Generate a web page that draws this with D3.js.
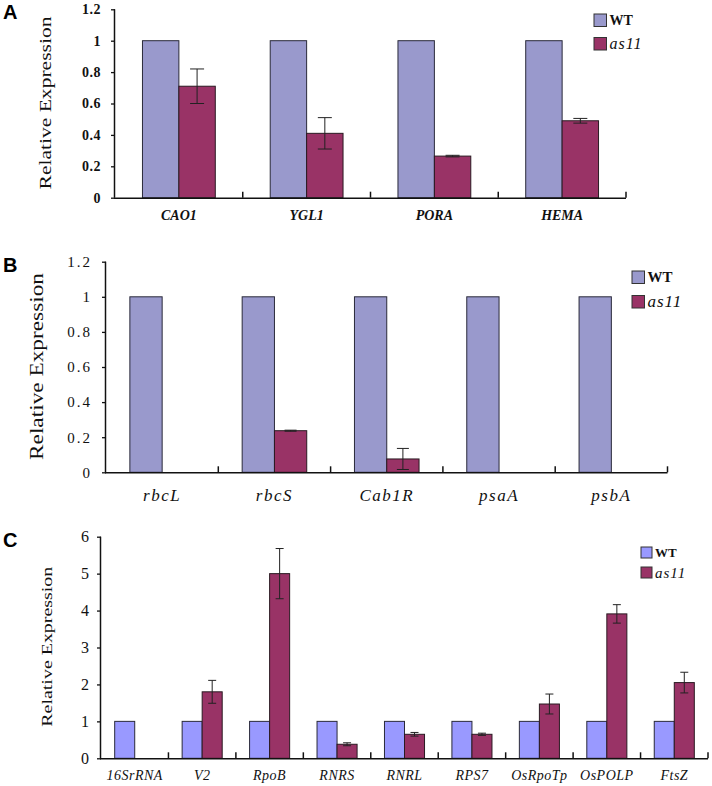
<!DOCTYPE html>
<html><head><meta charset="utf-8">
<script src="https://cdn.jsdelivr.net/npm/d3@7"></script>
<style>
html,body{margin:0;padding:0;background:#fff;}
svg{display:block;}
</style></head>
<body>
<svg id="chart" width="712" height="786"></svg>
<script>
// ---- Data ----
const seriesNames = ["WT", "as11"];

const catsA = ["CAO1", "YGL1", "PORA", "HEMA"];
const wtA = [1, 1, 1, 1];
const as11A = [0.71, 0.41, 0.265, 0.49];
const errA = [0.11, 0.10, 0.005, 0.015];
const ticksA = [0, 0.2, 0.4, 0.6, 0.8, 1, 1.2];

const catsB = ["rbcL", "rbcS", "Cab1R", "psaA", "psbA"];
const wtB = [1, 1, 1, 1, 1];
const as11B = [0, 0.237, 0.076, 0, 0];
const errB = [0, 0.003, 0.06, 0, 0];
const ticksB = [0, 0.2, 0.4, 0.6, 0.8, 1, 1.2];

const catsC = ["16SrRNA", "V2", "RpoB", "RNRS", "RNRL", "RPS7", "OsRpoTp", "OsPOLP", "FtsZ"];
const wtC = [1, 1, 1, 1, 1, 1, 1, 1, 1];
const as11C = [0, 1.80, 5.0, 0.38, 0.65, 0.65, 1.47, 3.91, 2.05];
const errC = [0, 0.31, 0.68, 0.04, 0.05, 0.03, 0.27, 0.25, 0.28];
const ticksC = [0, 1, 2, 3, 4, 5, 6];

const svg = d3.select("#chart");

function panel(o) {
  const g = svg.append("g");
  const x = d3.scaleBand().domain(o.cats).range([o.x0, o.x1]).padding(0);
  const bw = x.bandwidth();
  const xs = d3.scaleBand().domain(seriesNames).range([bw * o.pad / 2, bw * (1 - o.pad / 2)]).padding(0);
  const y = d3.scaleLinear().domain([0, o.ymax]).range([o.y0, o.ytop]);

  // bars
  const rows = o.cats.map((c, i) => ({c, wt: o.wt[i], as: o.as[i], e: o.err[i]}));
  g.selectAll("rect.wt").data(rows).join("rect")
    .attr("x", d => x(d.c) + xs("WT")).attr("width", xs.bandwidth())
    .attr("y", d => y(d.wt)).attr("height", d => y(0) - y(d.wt))
    .attr("fill", o.cWT).attr("stroke", "#2a2a3a").attr("stroke-width", 1);
  g.selectAll("rect.as").data(rows.filter(d => d.as > 0)).join("rect")
    .attr("x", d => x(d.c) + xs("as11")).attr("width", xs.bandwidth())
    .attr("y", d => y(d.as)).attr("height", d => y(0) - y(d.as))
    .attr("fill", o.cAS).attr("stroke", "#2a1a22").attr("stroke-width", 1);
  // error bars
  const eb = g.selectAll("g.eb").data(rows.filter(d => d.as > 0 && d.e > 0)).join("g")
    .attr("stroke", "#222").attr("stroke-width", 1);
  const cx = d => x(d.c) + xs("as11") + xs.bandwidth() / 2;
  eb.append("line").attr("x1", cx).attr("x2", cx).attr("y1", d => y(d.as + d.e)).attr("y2", d => y(d.as - d.e));
  eb.append("line").attr("x1", d => cx(d) - o.cap).attr("x2", d => cx(d) + o.cap).attr("y1", d => y(d.as + d.e)).attr("y2", d => y(d.as + d.e));
  eb.append("line").attr("x1", d => cx(d) - o.cap).attr("x2", d => cx(d) + o.cap).attr("y1", d => y(d.as - d.e)).attr("y2", d => y(d.as - d.e));

  // y axis
  const ya = g.append("g").attr("transform", `translate(${o.x0},0)`)
    .call(d3.axisLeft(y).tickValues(o.ticks).tickSize(4).tickPadding(o.tickPad).tickFormat(d3.format("~g")));
  ya.select(".domain").attr("d", `M-0.5,${o.y0}V${o.ytop}`).attr("stroke", "#111").attr("stroke-width", 1.5);
  ya.selectAll(".tick line").attr("stroke", "#111").attr("stroke-width", 1.3);
  ya.selectAll(".tick text").attr("font-family", o.tickFont).attr("font-size", o.tickSize)
    .attr("font-weight", o.tickWeight).attr("fill", "#111").attr("letter-spacing", o.tickLS);

  // x axis
  const xa = g.append("g").attr("transform", `translate(0,${o.y0})`)
    .call(d3.axisBottom(x).tickSize(0).tickPadding(o.xPad));
  xa.select(".domain").remove();
  xa.selectAll(".tick text").attr("font-family", o.xFont).attr("font-size", o.xSize)
    .attr("font-style", "italic").attr("font-weight", o.xWeight).attr("fill", "#111").attr("letter-spacing", o.xLS);
  g.append("line").attr("x1", o.x0 - 1).attr("x2", o.x1).attr("y1", o.y0 + 0.5).attr("y2", o.y0 + 0.5)
    .attr("stroke", "#111").attr("stroke-width", 1.5);
  g.selectAll("line.bt").data(o.cats).join("line")
    .attr("x1", c => x(c) + bw).attr("x2", c => x(c) + bw)
    .attr("y1", o.y0).attr("y2", o.y0 - 6).attr("stroke", "#111").attr("stroke-width", 1.5);

  // y label
  g.append("text").attr("transform", `translate(${o.ylx},${o.yly}) rotate(-90)`)
    .attr("text-anchor", "middle").attr("dominant-baseline", "central")
    .attr("font-family", "Liberation Serif, serif").attr("font-size", o.ylSize)
    .attr("textLength", o.ylLen).attr("lengthAdjust", "spacingAndGlyphs")
    .attr("fill", "#111").text("Relative Expression");

  // panel letter
  g.append("text").attr("x", 3).attr("y", o.letterY).attr("font-family", "Liberation Sans, Arial, sans-serif")
    .attr("font-weight", "bold").attr("font-size", 20).attr("fill", "#000").text(o.letter);

  // legend
  const lg = g.append("g").attr("transform", `translate(${o.lx},${o.ly})`);
  seriesNames.forEach((s, i) => {
    lg.append("rect").attr("x", 0).attr("y", i * o.lstep).attr("width", o.lbox).attr("height", o.lbox)
      .attr("fill", s === "WT" ? o.cWT : o.cAS).attr("stroke", "#333").attr("stroke-width", 1);
    lg.append("text").attr("x", o.lbox + 3).attr("y", i * o.lstep + o.lbox / 2)
      .attr("dominant-baseline", "central")
      .attr("font-family", "Liberation Serif, serif")
      .attr("font-size", s === "WT" ? o.lfs : o.lfs + 2)
      .attr("font-weight", s === "WT" ? "bold" : "normal")
      .attr("font-style", s === "WT" ? "normal" : "italic")
      .attr("letter-spacing", s === "WT" ? 0 : 1)
      .attr("fill", "#111").text(s);
  });
}

panel({
  letter: "A", letterY: 19,
  cats: catsA, wt: wtA, as: as11A, err: errA, ticks: ticksA, ymax: 1.2,
  x0: 115, x1: 626, y0: 197.7, ytop: 9.3, pad: 0.43, cap: 7,
  cWT: "#9999cc", cAS: "#993366",
  tickFont: "Liberation Serif, serif", tickSize: 14, tickWeight: "bold", tickLS: 0.5, tickPad: 10,
  xFont: "Liberation Serif, serif", xSize: 14, xWeight: "bold", xLS: 0, xPad: 12,
  ylx: 45, yly: 103, ylSize: 16, ylLen: 173,
  lx: 594, ly: 14, lbox: 12.5, lstep: 23.5, lfs: 14
});

panel({
  letter: "B", letterY: 272,
  cats: catsB, wt: wtB, as: as11B, err: errB, ticks: ticksB, ymax: 1.2,
  x0: 106, x1: 667.5, y0: 472.3, ytop: 261.7, pad: 0.425, cap: 6,
  cWT: "#9999cc", cAS: "#993366",
  tickFont: "Liberation Serif, serif", tickSize: 15, tickWeight: "normal", tickLS: 2, tickPad: 10,
  xFont: "Liberation Serif, serif", xSize: 17, xWeight: "normal", xLS: 1.5, xPad: 17,
  ylx: 37, yly: 366.5, ylSize: 18, ylLen: 187,
  lx: 632, ly: 271, lbox: 12.5, lstep: 24.5, lfs: 15
});

panel({
  letter: "C", letterY: 547,
  cats: catsC, wt: wtC, as: as11C, err: errC, ticks: ticksC, ymax: 6,
  x0: 101, x1: 708, y0: 758.3, ytop: 536.7, pad: 0.406, cap: 4,
  cWT: "#9999ff", cAS: "#993366",
  tickFont: "Liberation Serif, serif", tickSize: 16, tickWeight: "normal", tickLS: 0, tickPad: 8,
  xFont: "Liberation Serif, serif", xSize: 14, xWeight: "normal", xLS: 0.5, xPad: 12,
  ylx: 47, yly: 646.7, ylSize: 15, ylLen: 160,
  lx: 641, ly: 547, lbox: 11, lstep: 20, lfs: 13
});
</script>
</body></html>
